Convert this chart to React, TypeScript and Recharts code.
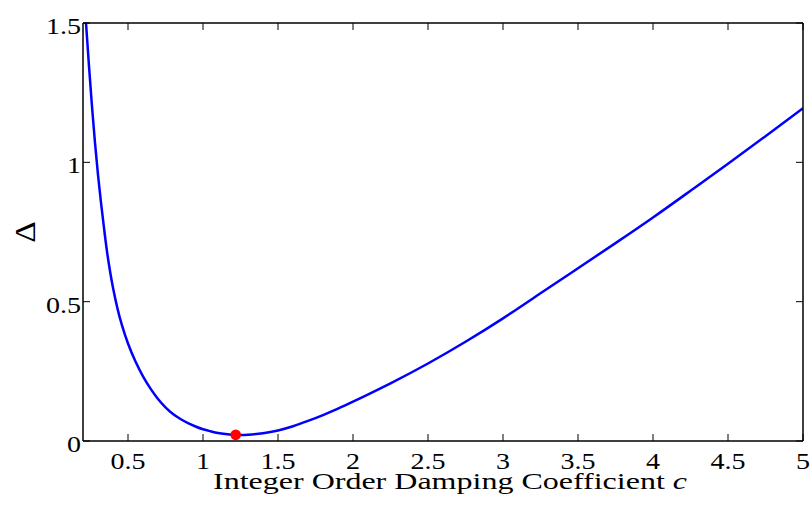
import { ComposedChart, Line, Scatter, XAxis, YAxis, Label } from "recharts";

// damping coefficient c vs. error Delta
const cValues = [
  0.2, 0.22, 0.24, 0.26, 0.28, 0.3, 0.32, 0.34, 0.36, 0.38, 0.4, 0.43, 0.46, 0.5, 0.55, 0.6,
  0.65, 0.7, 0.75, 0.8, 0.85, 0.9, 0.95, 1.0, 1.05, 1.1, 1.15, 1.2, 1.25, 1.3, 1.4, 1.5, 1.6,
  1.7, 1.8, 1.9, 2.0, 2.25, 2.5, 2.75, 3.0, 3.25, 3.5, 3.75, 4.0, 4.25, 4.5, 4.75, 5.0,
];
const deltaValues = [
  1.66, 1.5, 1.345, 1.2, 1.07, 0.955, 0.855, 0.765, 0.68, 0.61, 0.55, 0.475, 0.415, 0.35,
  0.285, 0.232, 0.188, 0.151, 0.121, 0.097, 0.079, 0.064, 0.052, 0.042, 0.035, 0.029, 0.025,
  0.0225, 0.0218, 0.0225, 0.028, 0.038, 0.053, 0.072, 0.093, 0.116, 0.141, 0.207, 0.278,
  0.356, 0.44, 0.53, 0.62, 0.71, 0.802, 0.898, 0.995, 1.094, 1.194,
];
const optimumC = [1.218];
const optimumDelta = [0.022];

const xTicks = [0.5, 1, 1.5, 2, 2.5, 3, 3.5, 4, 4.5, 5];
const yTicks = [0, 0.5, 1, 1.5];
const xLabel = "Integer Order Damping Coefficient ";

const curve = cValues.map((c, i) => ({ c, delta: deltaValues[i] }));
const optimum = optimumC.map((c, i) => ({ c, delta: optimumDelta[i] }));

const FONT = "'Liberation Serif', 'Times New Roman', serif";
const PLOT = { left: 83, top: 23, right: 803, bottom: 441 };
const TICK = 7;

function BottomTick(props: any) {
  const { x, payload } = props;
  return (
    <g>
      <line x1={x} x2={x} y1={PLOT.bottom} y2={PLOT.bottom - TICK} stroke="#000" strokeWidth={1} />
      <text
        transform={`translate(${x},469) scale(1.22,1)`}
        textAnchor="middle"
        fontSize={23}
        fontFamily={FONT}
        fill="#000"
      >
        {String(payload.value)}
      </text>
    </g>
  );
}

function TopTick(props: any) {
  const { x } = props;
  return <line x1={x} x2={x} y1={PLOT.top} y2={PLOT.top + TICK} stroke="#000" strokeWidth={1} />;
}

function LeftTick(props: any) {
  const { y, payload } = props;
  return (
    <g>
      <line x1={PLOT.left} x2={PLOT.left + TICK} y1={y} y2={y} stroke="#000" strokeWidth={1} />
      <text
        transform={`translate(81,${y + 11}) scale(1.22,1)`}
        textAnchor="end"
        fontSize={23}
        fontFamily={FONT}
        fill="#000"
      >
        {String(payload.value)}
      </text>
    </g>
  );
}

function RightTick(props: any) {
  const { y } = props;
  return <line x1={PLOT.right} x2={PLOT.right - TICK} y1={y} y2={y} stroke="#000" strokeWidth={1} />;
}

const axisLine = { stroke: "#000", strokeWidth: 1.5 };

export default function App() {
  return (
    <div style={{ position: "absolute", left: 0, top: 0, background: "#fff" }}>
      <ComposedChart width={812} height={510} margin={{ top: 22, right: 8, bottom: 0, left: 0 }}>
        <XAxis
          xAxisId="bottom"
          dataKey="c"
          type="number"
          domain={[0.2, 5]}
          ticks={xTicks}
          interval={0}
          allowDataOverflow
          height={69}
          axisLine={axisLine}
          tickLine={false}
          tick={BottomTick}
        >
          <Label
            content={() => (
              <text
                x={213}
                y={489}
                textLength={474}
                lengthAdjust="spacingAndGlyphs"
                fontSize={23}
                fontFamily={FONT}
                fill="#000"
              >
                {xLabel}
                <tspan fontStyle="italic">c</tspan>
              </text>
            )}
          />
        </XAxis>
        <XAxis
          xAxisId="top"
          orientation="top"
          dataKey="c"
          type="number"
          domain={[0.2, 5]}
          ticks={xTicks}
          interval={0}
          allowDataOverflow
          height={1}
          axisLine={axisLine}
          tickLine={false}
          tick={TopTick}
        />
        <YAxis
          yAxisId="left"
          type="number"
          domain={[0, 1.5]}
          ticks={yTicks}
          interval={0}
          allowDataOverflow
          width={83}
          axisLine={axisLine}
          tickLine={false}
          tick={LeftTick}
        >
          <Label
            content={() => (
              <text
                transform="translate(35,232) rotate(-90) scale(1.4,1.26)"
                textAnchor="middle"
                fontSize={24}
                fontFamily={FONT}
                fill="#000"
              >
                Δ
              </text>
            )}
          />
        </YAxis>
        <YAxis
          yAxisId="right"
          orientation="right"
          type="number"
          domain={[0, 1.5]}
          ticks={yTicks}
          interval={0}
          allowDataOverflow
          width={1}
          axisLine={axisLine}
          tickLine={false}
          tick={RightTick}
        />
        <Line
          xAxisId="bottom"
          yAxisId="left"
          data={curve}
          dataKey="delta"
          type="natural"
          stroke="#0000ff"
          strokeWidth={2.5}
          dot={false}
          activeDot={false}
          isAnimationActive={false}
        />
        <Scatter
          xAxisId="bottom"
          yAxisId="left"
          data={optimum}
          dataKey="delta"
          fill="#ff0000"
          isAnimationActive={false}
          shape={(p: any) => <circle cx={p.cx} cy={p.cy} r={5.3} fill="#ff0000" />}
        />
      </ComposedChart>
    </div>
  );
}
